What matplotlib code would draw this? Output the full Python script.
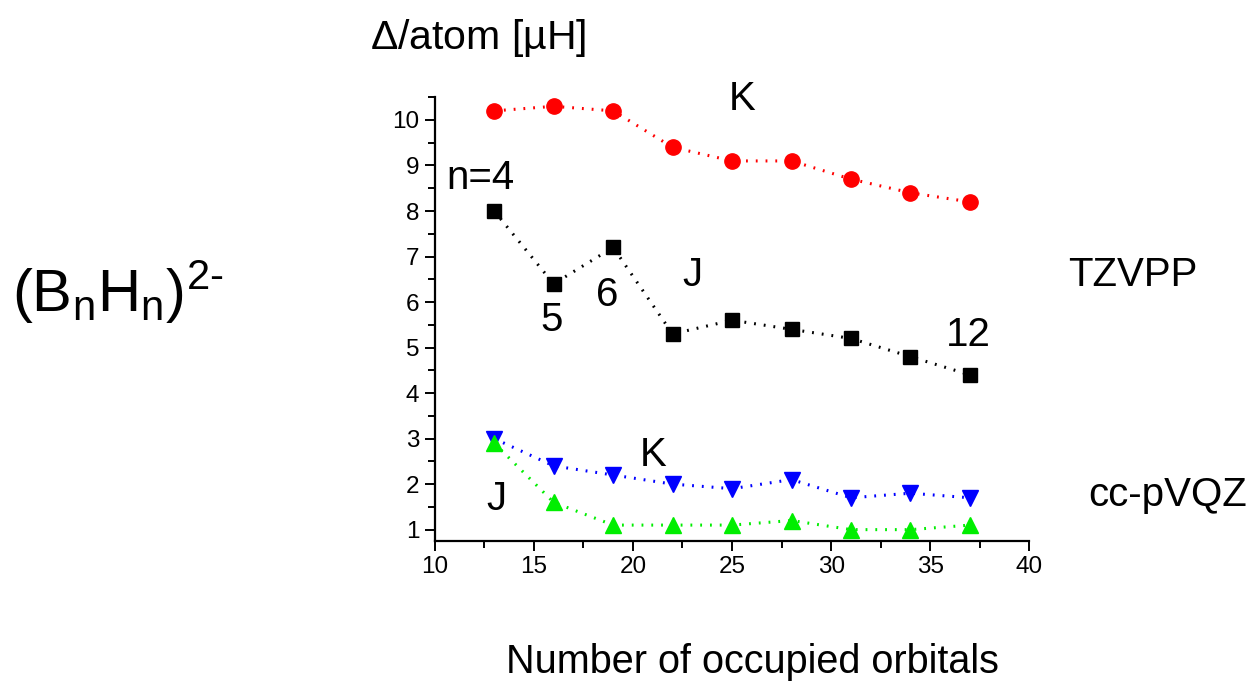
import numpy as np
import matplotlib
matplotlib.use("Agg")
import matplotlib.pyplot as plt
from matplotlib.ticker import MultipleLocator

plt.rcParams['font.family'] = ['Liberation Sans', 'DejaVu Sans']
plt.rcParams['mathtext.fontset'] = 'custom'
plt.rcParams['mathtext.rm'] = 'Liberation Sans'

# number of occupied orbitals for n = 4 ... 12
orbitals = [13, 16, 19, 22, 25, 28, 31, 34, 37]

# deviation per atom in microhartree
k_tzvpp = [10.2, 10.3, 10.2, 9.4, 9.1, 9.1, 8.7, 8.4, 8.2]
j_tzvpp = [8.0, 6.4, 7.2, 5.3, 5.6, 5.4, 5.2, 4.8, 4.4]
k_ccpvqz = [3.0, 2.4, 2.2, 2.0, 1.9, 2.1, 1.7, 1.8, 1.7]
j_ccpvqz = [2.9, 1.6, 1.1, 1.1, 1.1, 1.2, 1.0, 1.0, 1.1]

fig = plt.figure(figsize=(12.6, 6.87), dpi=100)
ax = fig.add_axes([0.345, 0.2125, 0.472, 0.646])

dots = (0, (0.6, 2.6))
ax.plot(orbitals, k_tzvpp, color='#ff0000', ls=dots, lw=2.2, marker='o', ms=11)
ax.plot(orbitals, j_tzvpp, color='black', ls=dots, lw=2.2, marker='s', ms=10)
ax.plot(orbitals, k_ccpvqz, color='#0000ff', ls=dots, lw=2.2, marker='v', ms=11.5)
ax.plot(orbitals, j_ccpvqz, color='#00ee00', ls=dots, lw=2.2, marker='^', ms=11.5)

ax.set_xlim(10, 40)
ax.set_ylim(0.75, 10.5)
ax.xaxis.set_major_locator(MultipleLocator(5))
ax.xaxis.set_minor_locator(MultipleLocator(2.5))
ax.yaxis.set_major_locator(MultipleLocator(1))
ax.yaxis.set_minor_locator(MultipleLocator(0.5))
ax.spines[['top', 'right']].set_visible(False)
for s in ('left', 'bottom'):
    ax.spines[s].set_linewidth(1.6)
ax.tick_params(which='major', length=7, width=1.4, labelsize=17.5, pad=4)
ax.tick_params(which='minor', length=5, width=1.4)

# series labels inside the plot
fs = 29
ax.text(10.6, 8.73, 'n=4', fontsize=fs, ha='left', va='center')
ax.text(15.9, 5.6, '5', fontsize=fs, ha='center', va='center')
ax.text(18.7, 6.15, '6', fontsize=fs, ha='center', va='center')
ax.text(23.0, 6.6, 'J', fontsize=fs, ha='center', va='center')
ax.text(25.5, 10.45, 'K', fontsize=fs, ha='center', va='center')
ax.text(36.9, 5.27, '12', fontsize=fs, ha='center', va='center')
ax.text(21.0, 2.63, 'K', fontsize=fs, ha='center', va='center')
ax.text(13.1, 1.68, 'J', fontsize=fs, ha='center', va='center')

# titles and basis set names
fig.text(370 / 1260, 1 - 38 / 687, r'$\Delta$/atom [µH]', fontsize=29.5,
         ha='left', va='center')
fig.text(752 / 1260, 1 - 662 / 687, 'Number of occupied orbitals', fontsize=28.5,
         ha='center', va='center')
fig.text(1068 / 1260, 1 - 275 / 687, 'TZVPP', fontsize=29, ha='left', va='center')
fig.text(1088 / 1260, 1 - 495 / 687, 'cc-pVQZ', fontsize=29, ha='left', va='center')
fig.text(12 / 1260, 1 - 292 / 687, r'$\mathregular{(B_nH_n)^{2\text{-}}}$', fontsize=43,
         ha='left', va='center')

fig.savefig('out.png', dpi=100)
